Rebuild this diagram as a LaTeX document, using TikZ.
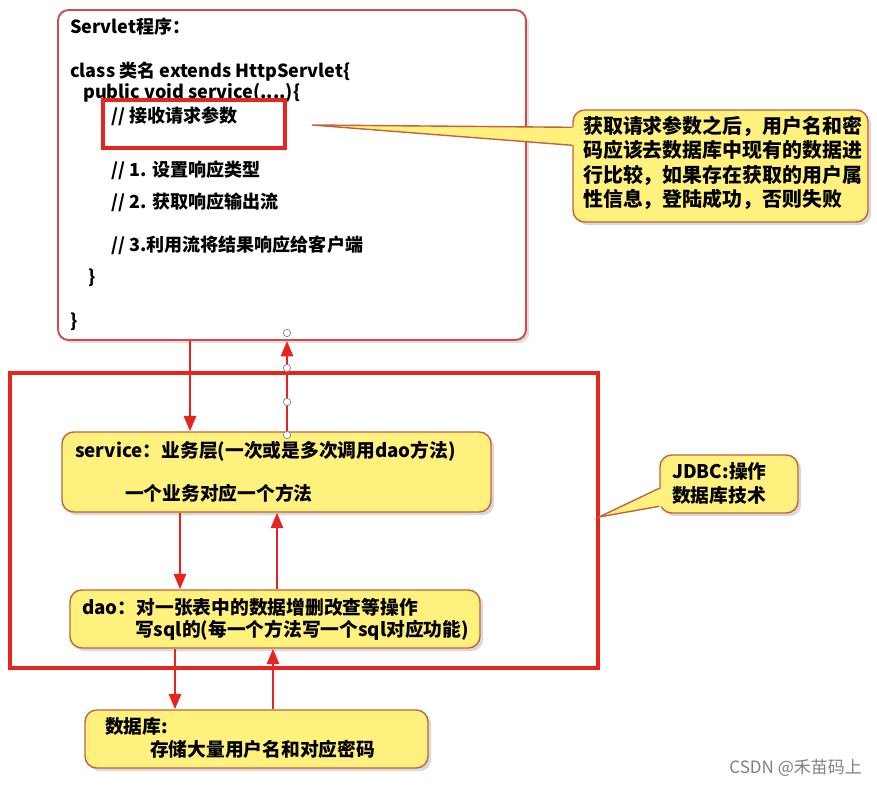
\documentclass[tikz,border=0pt]{standalone}
\usepackage{fontspec}
\setmainfont{Noto Sans CJK SC}
\usetikzlibrary{arrows.meta, fit, shadows, calc}

\definecolor{boxred}{RGB}{214,72,72}
\definecolor{linered}{RGB}{232,36,30}
\definecolor{noteyellow}{RGB}{255,241,125}
\definecolor{noteedge}{RGB}{196,98,60}

\tikzset{
  servletbox/.style={draw=boxred, line width=1.6pt, rounded corners=9pt, fill=white, inner sep=0pt, drop shadow={opacity=.25}},
  notebox/.style={draw=noteedge, line width=1.2pt, rounded corners=10pt, fill=noteyellow, inner sep=0pt, drop shadow={opacity=.3}},
  markbox/.style={draw=linered, line width=2.6pt, inner sep=0pt},
  txt/.style={anchor=west, inner sep=0pt, font=\bfseries\fontsize{16}{18}\selectfont},
  codetxt/.style={txt, font=\bfseries\fontsize{15.4}{18}\selectfont},
  flow/.style={draw=linered, line width=2.3pt, -{Triangle[length=4.6mm,width=3.6mm]}},
  handle/.style={circle, draw=gray, fill=white, line width=.6pt, inner sep=0pt, minimum size=2.2mm},
}

\begin{document}
\begin{tikzpicture}[x=0.03cm, y=-0.03cm]
  \useasboundingbox (0,0) rectangle (877,786);

  % servlet program
  \node[servletbox, fit={(58,10) (526,340)}] (servlet) {};
  \node[codetxt] (s1) at (70,27) {Servlet程序：};
  \node[codetxt] (s2) at (70,72) {class 类名 extends HttpServlet\{};
  \node[codetxt] (s3) at (83,93) {public void service(....)\{};
  \node[codetxt] (s4) at (111,116) {// 接收请求参数};
  \node[codetxt] (s5) at (111,170) {// 1. 设置响应类型};
  \node[codetxt] (s6) at (111,202) {// 2. 获取响应输出流};
  \node[codetxt] (s7) at (111,245) {// 3.利用流将结果响应给客户端};
  \node[codetxt] (s8) at (88,278) {\}};
  \node[codetxt] (s9) at (70,322) {\}};
  \node[markbox, fit={(103,100) (285,148)}] (recv) {};

  % hint callout
  \node[notebox, fit={(573,110) (868,222)}] (hint) {};
  \node[anchor=north west, inner sep=0pt, align=left,
        font=\bfseries\fontsize{17}{20.8}\selectfont] (hinttxt) at (583,116)
    {获取请求参数之后，用户名和密\\码应该去数据库中现有的数据进\\行比较，如果存在获取的用户属\\性信息，登陆成功，否则失败};
  \coordinate (hinttip) at (312,125);
  \fill[noteyellow] (hinttip) -- ($(hint.north west)+(3,18)$) -- ($(hint.north west)+(3,36)$) -- cycle;
  \draw[noteedge, line width=1.2pt] ($(hint.north west)+(0,18)$) -- (hinttip) -- ($(hint.north west)+(0,36)$);

  % jdbc layer
  \node[markbox, fit={(10,373) (598,668)}] (jdbc) {};

  \node[notebox, fit={(62,432) (491,512)}] (service) {};
  \node[txt] (v1) at (75,451) {service：业务层(一次或是多次调用dao方法)};
  \node[txt] (v2) at (125,493) {一个业务对应一个方法};

  \node[notebox, fit={(70,590) (480,648)}] (dao) {};
  \node[txt] (d1) at (82,607) {dao：对一张表中的数据增删改查等操作};
  \node[txt] (d2) at (135,630) {写sql的(每一个方法写一个sql对应功能)};

  \node[notebox, fit={(85,710) (428,768)}] (db) {};
  \node[txt] (b1) at (105,726) {数据库:};
  \node[txt] (b2) at (150,749) {存储大量用户名和对应密码};

  % jdbc note
  \node[notebox, fit={(660,455) (798,513)}] (tech) {};
  \node[txt] (t1) at (672,471) {JDBC:操作};
  \node[txt] (t2) at (672,495) {数据库技术};
  \coordinate (techtip) at (599,517);
  \fill[noteyellow] (techtip) -- ($(tech.north west)+(3,34)$) -- ($(tech.north west)+(3,52)$) -- cycle;
  \draw[noteedge, line width=1.2pt] ($(tech.north west)+(0,34)$) -- (techtip) -- ($(tech.north west)+(0,52)$);

  % flows
  \coordinate (xa) at (190,0);
  \coordinate (xb) at (287,0);
  \coordinate (xc) at (180,0);
  \coordinate (xd) at (277,0);
  \coordinate (xe) at (175,0);
  \coordinate (xf) at (273,0);
  \draw[flow] (servlet.south -| xa) -- (service.north -| xa);
  \draw[flow] (service.north -| xb) -- (servlet.south -| xb);
  \draw[flow] (service.south -| xc) -- (dao.north -| xc);
  \draw[flow] (dao.north -| xd) -- (service.south -| xd);
  \draw[flow] (dao.south -| xe) -- (db.north -| xe);
  \draw[flow] (db.north -| xf) -- (dao.south -| xf);
  \foreach \y in {333,368,402,435}
    \node[handle] (h\y) at (287,\y) {};

  \node[anchor=east, inner sep=0pt, text=gray, font=\fontsize{14.5}{16}\selectfont] (mark) at (862,768) {CSDN @禾苗码上};
\end{tikzpicture}
\end{document}
